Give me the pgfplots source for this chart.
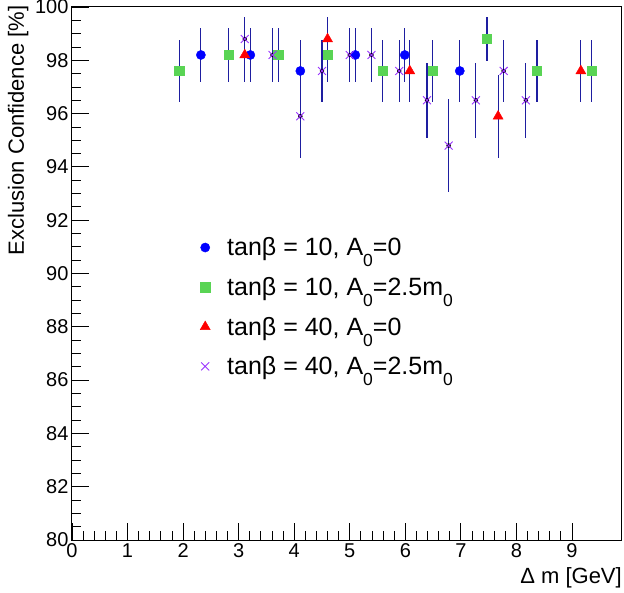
\documentclass[border=0pt]{standalone}
\usepackage{fontspec}
\setmainfont{Liberation Sans}
\usepackage{pgfplots}
\usepackage{pgfplotstable}
\pgfplotsset{compat=1.18}
\definecolor{cblue}{RGB}{0,0,255}
\definecolor{cgreen}{RGB}{89,212,84}
\definecolor{cred}{RGB}{255,0,0}
\definecolor{cviolet}{RGB}{153,51,255}
\definecolor{cbar}{RGB}{30,30,160}
\newcommand\sub[1]{\raisebox{-11pt}{\fontsize{17.5}{17.5}\selectfont #1}}

\pgfplotstableread{
x y e
2.32 98.2 1.0
3.21 98.2 1.0
4.11 97.6 1.17
5.10 98.2 1.0
5.99 98.2 1.0
6.98 97.6 1.17
}\dataA
\pgfplotstableread{
x y e
1.93 97.6 1.17
2.82 98.2 1.0
3.71 98.2 1.0
4.60 98.2 1.0
5.59 97.6 1.17
6.49 97.6 1.17
7.47 98.8 0.83
8.37 97.6 1.17
9.35 97.6 1.17
}\dataB
\pgfplotstableread{
x y e
3.11 98.2 1.0
4.60 98.8 0.83
6.08 97.6 1.17
7.67 95.9 1.55
9.16 97.6 1.17
}\dataC
\pgfplotstableread{
x y e
3.11 98.8 0.83
3.61 98.2 1.0
4.11 95.9 1.55
4.50 97.6 1.17
5.00 98.2 1.0
5.39 98.2 1.0
5.89 97.6 1.17
6.39 96.5 1.4
6.78 94.8 1.75
7.27 96.5 1.4
7.77 97.6 1.17
8.17 96.5 1.4
}\dataD

\begin{document}
\begin{tikzpicture}
\useasboundingbox (0,0) rectangle (624pt,592pt);
\begin{axis}[
 at={(72pt,52pt)}, anchor=south west, scale only axis, width=550pt, height=533pt,
 xmin=0, xmax=9.9, ymin=80, ymax=100,
 xtick={0,1,...,9}, ytick={80,82,...,100},
 minor x tick num=4, minor y tick num=3,
 tick align=inside, xtick pos=bottom, ytick pos=left,
 major tick length=17pt, minor tick length=9pt,
 tick style={black, line width=0.8pt},
 axis line style={line width=1pt},
 ticklabel style={font=\fontsize{20}{24}\selectfont},
 /pgf/number format/assume math mode=true,
 xlabel={Δ m [GeV]}, ylabel={Exclusion Confidence [\%]},
 label style={font=\fontsize{22}{26}\selectfont},
 xlabel style={at={(axis description cs:1,0)}, anchor=base east, yshift=-43pt, inner sep=0pt},
 ylabel style={at={(axis description cs:-0.098,1.003)}, anchor=east, inner sep=0pt},
 legend style={at={(axis cs:2.25,91.5)}, anchor=north west, draw=none, fill=none,
   font=\fontsize{25}{30}\selectfont, row sep=16pt,
   /tikz/every odd column/.append style={column sep=15pt}},
 legend cell align=left,
 ebar/.style={forget plot, only marks, mark=none,
   error bars/.cd, y dir=both, y explicit, error mark=none,
   error bar style={cbar, line width=1.1pt}},
]
% error bars
\addplot[ebar] table[x=x, y=y, y error=e] {\dataA};
\addplot[ebar] table[x=x, y=y, y error=e] {\dataB};
\addplot[ebar] table[x=x, y=y, y error=e] {\dataC};
\addplot[ebar] table[x=x, y=y, y error=e] {\dataD};
% markers
\addplot[cblue, only marks, mark=*, mark size=4.6pt, mark options={draw=none, fill=cblue}]
 table[x=x, y=y] {\dataA};
\addlegendentry{tanβ = 10, A\sub{0}=0}
\addplot[cgreen, only marks, mark=square*, mark size=4.7pt, mark options={draw=none, fill=cgreen}]
 table[x=x, y=y] {\dataB};
\addlegendentry{tanβ = 10, A\sub{0}=2.5m\sub{0}}
\addplot[cred, only marks, mark=triangle*, mark size=5.8pt, mark options={draw=none, fill=cred}]
 table[x=x, y=y] {\dataC};
\addlegendentry{tanβ = 40, A\sub{0}=0}
\addplot[cviolet, only marks, mark=x, mark size=5.6pt, mark options={draw=cviolet, line width=0.9pt}]
 table[x=x, y=y] {\dataD};
\addlegendentry{tanβ = 40, A\sub{0}=2.5m\sub{0}}
\end{axis}
\end{tikzpicture}
\end{document}
